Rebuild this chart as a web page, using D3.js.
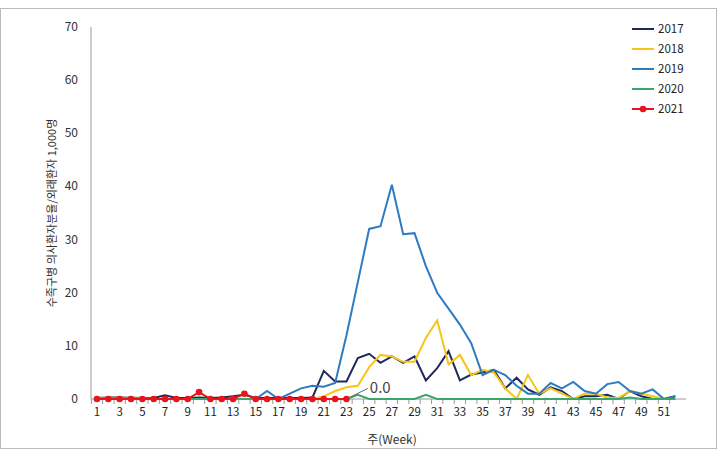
<!DOCTYPE html>
<html><head><meta charset="utf-8">
<script src="https://cdn.jsdelivr.net/npm/d3@7"></script>
<style>body{margin:0;background:#fff}text{font-family:"Noto Sans CJK KR","Noto Sans",sans-serif}</style>
</head><body><div id="chart"></div>
<script>
const weeks = d3.range(1, 53);
const years = ["2017", "2018", "2019", "2020", "2021"];
const colors = ["#1f2a5c", "#f5c518", "#2e7bc0", "#3aa66a", "#e8141c"];
const v2017 = [0.2,0.3,0.3,0.2,0.2,0.2,0.7,0.2,0.2,0.3,0.2,0.3,0.5,0.8,0.2,0.2,0.2,0.2,0.2,0.3,5.3,3.3,3.3,7.7,8.5,6.8,8,6.8,8,3.5,5.8,9,3.5,4.6,5,5.5,2,4,1.8,0.8,2.2,1.5,0,0.5,0.5,0.8,0,1.5,0.5,0,0,0.5];
const v2018 = [0,0,0,0,0,0,0,0,0,0,0,0,0,0,0,0,0,0,0,0,0.5,1.5,2.2,2.5,6,8.3,8,7,7,11.5,14.8,6.5,8.3,4.5,5.5,5,2,0,4.5,1,2,1,0,1,1,0.3,0.2,1.5,1,0.5,0,0];
const v2019 = [0,0,0,0,0,0,0,0,0,0,0,0,0,0,0,1.5,0,1,2,2.5,2.3,3,12,22,32,32.5,40.3,31,31.2,25,20,17,14,10.5,4.5,5.5,4.5,2.5,1,1,3,2,3.2,1.5,1,2.8,3.2,1.5,1,1.8,0,0.5];
const v2020 = [0.2,0.2,0.2,0.3,0.2,0,0,0,0,0,0,0,0,0,0,0,0,0,0,0,0,0,0,0.8,0,0,0,0,0,0.8,0,0,0,0,0,0,0,0,0,0,0,0,0,0,0,0,0,0.3,0,0,0,0];
const v2021 = [0,0,0,0,0,0,0,0,0,1.3,0,0,0,1,0,0,0,0,0,0,0,0,0];
const series = [v2017, v2018, v2019, v2020, v2021];
const yTicks = [0,10,20,30,40,50,60,70];

const W = 718, H = 449;
const svg = d3.select("#chart").append("svg").attr("width", W).attr("height", H);
svg.append("rect").attr("x",0.5).attr("y",8.5).attr("width",W-2).attr("height",H-9)
  .attr("fill","none").attr("stroke","#bbb");

const x = d3.scaleLinear().domain([1, 51]).range([97, 664]);
const y = d3.scaleLinear().domain([0, 70]).range([399, 27]);

svg.append("line").attr("x1",91).attr("x2",91).attr("y1",27).attr("y2",399).attr("stroke","#999");
svg.append("line").attr("x1",91).attr("x2",686).attr("y1",399).attr("y2",399).attr("stroke","#999");
svg.selectAll(".yt").data(yTicks).join("text")
  .attr("x",78).attr("y",d=>y(d)+4).attr("text-anchor","end").attr("font-size",12).attr("fill","#333").text(d=>d);
svg.selectAll(".xt").data(weeks).join("line")
  .attr("x1",d=>x(d)-5.67).attr("x2",d=>x(d)-5.67).attr("y1",399).attr("y2",404).attr("stroke","#999");
svg.selectAll(".xl").data(weeks.filter(d=>d%2===1)).join("text")
  .attr("x",d=>x(d)).attr("y",416).attr("text-anchor","middle").attr("font-size",11.5).attr("fill","#222").text(d=>d);

const line = d3.line().x((d,i)=>x(i+1)).y(d=>y(d));
series.forEach((s,k)=>{
  svg.append("path").attr("d",line(s)).attr("fill","none").attr("stroke",colors[k]).attr("stroke-width",2);
});
svg.selectAll(".m").data(v2021).join("circle")
  .attr("cx",(d,i)=>x(i+1)).attr("cy",d=>y(d)).attr("r",3.3).attr("fill",colors[4]);

svg.append("line").attr("x1",x(23)+4).attr("y1",y(0)-2).attr("x2",x(24)+10).attr("y2",y(2)).attr("stroke","#666");
svg.append("text").attr("x",x(24)+12).attr("y",y(2)+5).attr("font-size",15).attr("fill","#444").text("0.0");

svg.append("text").attr("transform","translate(56,213) rotate(-90)").attr("text-anchor","middle")
  .attr("font-size",11).attr("fill","#333").text("수족구병 의사환자분율/외래환자 1,000명");
svg.append("text").attr("x",392).attr("y",444).attr("text-anchor","middle").attr("font-size",12).attr("fill","#333").text("주(Week)");

const lg = svg.append("g");
years.forEach((yr,k)=>{
  const ly = 29 + k*20;
  lg.append("line").attr("x1",632).attr("x2",654).attr("y1",ly).attr("y2",ly).attr("stroke",colors[k]).attr("stroke-width",2);
  if (k===4) lg.append("circle").attr("cx",643).attr("cy",ly).attr("r",3.3).attr("fill",colors[k]);
  lg.append("text").attr("x",658).attr("y",ly+4).attr("font-size",11.5).attr("fill","#222").text(yr);
});
</script></body></html>
